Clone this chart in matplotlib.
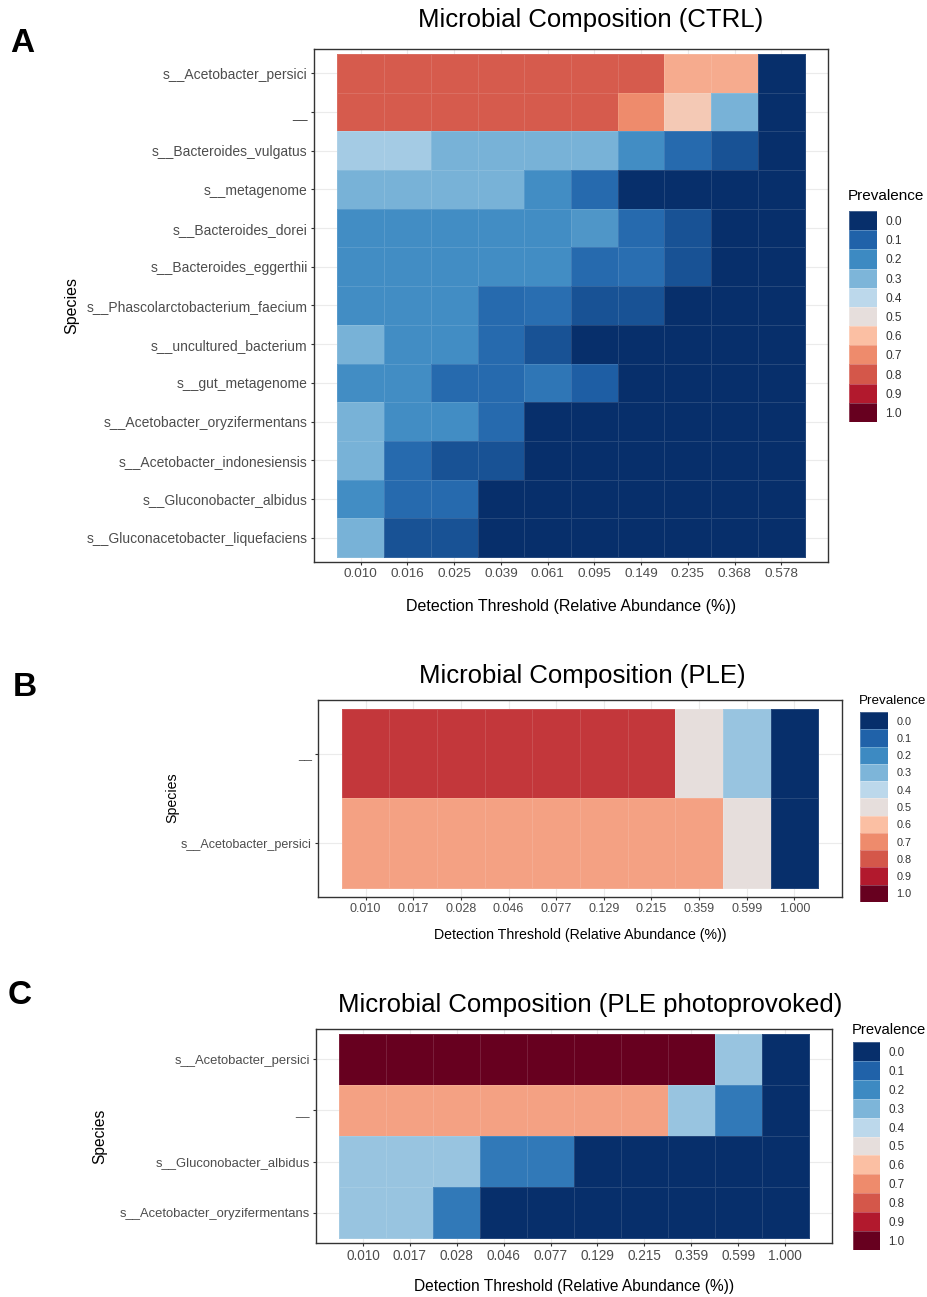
import numpy as np
import matplotlib
matplotlib.use('Agg')
import matplotlib.pyplot as plt
from matplotlib.colors import LinearSegmentedColormap

plt.rcParams['font.family'] = ['Liberation Sans', 'DejaVu Sans']

# ---- data: prevalence of each species at each detection threshold ----
# Panel A (CTRL)
ctrl_species = ['s__Acetobacter_persici', '__', 's__Bacteroides_vulgatus', 's__metagenome',
                's__Bacteroides_dorei', 's__Bacteroides_eggerthii',
                's__Phascolarctobacterium_faecium', 's__uncultured_bacterium',
                's__gut_metagenome', 's__Acetobacter_oryzifermentans',
                's__Acetobacter_indonesiensis', 's__Gluconobacter_albidus',
                's__Gluconacetobacter_liquefaciens']
ctrl_thresholds = ['0.010', '0.016', '0.025', '0.039', '0.061', '0.095', '0.149', '0.235', '0.368', '0.578']
ctrl_prev = [
    [0.79, 0.79, 0.79, 0.79, 0.79, 0.79, 0.79, 0.64, 0.64, 0.0],
    [0.79, 0.79, 0.79, 0.79, 0.79, 0.79, 0.70, 0.57, 0.29, 0.0],
    [0.36, 0.36, 0.29, 0.29, 0.29, 0.29, 0.21, 0.12, 0.07, 0.0],
    [0.29, 0.29, 0.29, 0.29, 0.21, 0.12, 0.0, 0.0, 0.0, 0.0],
    [0.21, 0.21, 0.21, 0.21, 0.21, 0.23, 0.12, 0.07, 0.0, 0.0],
    [0.21, 0.21, 0.21, 0.21, 0.21, 0.12, 0.13, 0.07, 0.0, 0.0],
    [0.21, 0.21, 0.21, 0.12, 0.13, 0.07, 0.07, 0.0, 0.0, 0.0],
    [0.29, 0.21, 0.21, 0.12, 0.07, 0.0, 0.0, 0.0, 0.0, 0.0],
    [0.21, 0.21, 0.12, 0.12, 0.15, 0.09, 0.0, 0.0, 0.0, 0.0],
    [0.29, 0.21, 0.21, 0.12, 0.0, 0.0, 0.0, 0.0, 0.0, 0.0],
    [0.29, 0.12, 0.07, 0.07, 0.0, 0.0, 0.0, 0.0, 0.0, 0.0],
    [0.21, 0.12, 0.12, 0.0, 0.0, 0.0, 0.0, 0.0, 0.0, 0.0],
    [0.29, 0.07, 0.07, 0.0, 0.0, 0.0, 0.0, 0.0, 0.0, 0.0],
]

# Panel B (PLE)
ple_species = ['__', 's__Acetobacter_persici']
ple_thresholds = ['0.010', '0.017', '0.028', '0.046', '0.077', '0.129', '0.215', '0.359', '0.599', '1.000']
ple_prev = [
    [0.85, 0.85, 0.85, 0.85, 0.85, 0.85, 0.85, 0.50, 0.34, 0.0],
    [0.66, 0.66, 0.66, 0.66, 0.66, 0.66, 0.66, 0.66, 0.50, 0.0],
]

# Panel C (PLE photoprovoked)
photo_species = ['s__Acetobacter_persici', '__', 's__Gluconobacter_albidus', 's__Acetobacter_oryzifermentans']
photo_thresholds = ['0.010', '0.017', '0.028', '0.046', '0.077', '0.129', '0.215', '0.359', '0.599', '1.000']
photo_prev = [
    [1.0, 1.0, 1.0, 1.0, 1.0, 1.0, 1.0, 1.0, 0.34, 0.0],
    [0.66, 0.66, 0.66, 0.66, 0.66, 0.66, 0.66, 0.34, 0.16, 0.0],
    [0.34, 0.34, 0.34, 0.16, 0.16, 0.0, 0.0, 0.0, 0.0, 0.0],
    [0.34, 0.34, 0.16, 0.0, 0.0, 0.0, 0.0, 0.0, 0.0, 0.0],
]

legend_levels = [0.0, 0.1, 0.2, 0.3, 0.4, 0.5, 0.6, 0.7, 0.8, 0.9, 1.0]

# RdBu-like palette as rendered in the figure
cmap = LinearSegmentedColormap.from_list('prev', [
    '#072f6b', '#2163aa', '#3d8ac2', '#7eb6d9', '#bcd8eb', '#e6dfdd',
    '#fbbfa3', '#ef8c6d', '#d4574a', '#b3192d', '#67001f'])

W, H = 928, 1297
fig = plt.figure(figsize=(W / 100, H / 100), dpi=100)


def px_axes(x0, y0, x1, y1):
    return fig.add_axes([x0 / W, 1 - y1 / H, (x1 - x0) / W, (y1 - y0) / H])


def panel(box, species, thresholds, prev, ypad, ytick_fs, xtick_fs):
    ax = px_axes(*box)
    vals = np.array(prev)
    ny, nx = vals.shape
    ax.pcolormesh(np.arange(nx + 1) - 0.5, np.arange(ny + 1) - 0.5, vals, cmap=cmap,
                  vmin=0, vmax=1, edgecolors=(1, 1, 1, 0.12), linewidth=0.6, zorder=2)
    ax.set_xlim(-1, nx)
    ax.set_ylim(ny - 0.5 + ypad, -0.5 - ypad)
    ax.set_xticks(range(nx))
    ax.set_xticklabels(thresholds, fontsize=xtick_fs, color='#4d4d4d')
    ax.set_yticks(range(ny))
    ax.set_yticklabels(species, fontsize=ytick_fs, color='#4d4d4d')
    ax.tick_params(length=2.5, width=0.8, color='#333333', pad=2)
    ax.grid(True, color='#ebebeb', lw=0.8, zorder=0)
    ax.set_axisbelow(True)
    for s in ax.spines.values():
        s.set_color('#333333')
        s.set_linewidth(1.0)
    return ax


def legend(box, title_xy, title_fs, label_fs):
    ax = px_axes(*box)
    lv = np.array(legend_levels).reshape(-1, 1)
    ax.pcolormesh([0, 1], np.arange(len(legend_levels) + 1), lv, cmap=cmap, vmin=0, vmax=1,
                  edgecolors=(1, 1, 1, 0.25), linewidth=0.5)
    ax.set_xlim(0, 1)
    ax.set_ylim(len(legend_levels), 0)
    ax.yaxis.tick_right()
    ax.set_yticks(np.arange(len(legend_levels)) + 0.5)
    ax.set_yticklabels(['%.1f' % v for v in legend_levels], fontsize=label_fs, color='#333333')
    ax.tick_params(length=0, pad=6)
    ax.set_xticks([])
    for s in ax.spines.values():
        s.set_visible(False)
    fig.text(title_xy[0] / W, 1 - title_xy[1] / H, 'Prevalence', fontsize=title_fs,
             ha='left', va='center')


# ---- Panel A ----
panel((314, 49, 828, 562), ctrl_species, ctrl_thresholds, ctrl_prev, 0.13, 10, 9.7)
fig.text(591 / W, 1 - 20 / H, 'Microbial Composition (CTRL)', fontsize=18.5, ha='center', va='center')
fig.text(571 / W, 1 - 606 / H, 'Detection Threshold (Relative Abundance (%))', fontsize=11.5,
         ha='center', va='center')
fig.text(72 / W, 1 - 305 / H, 'Species', fontsize=11.5, rotation=90, ha='center', va='center')
legend((849, 211, 877, 422), (848, 196), 11, 8.6)
fig.text(22 / W, 1 - 44 / H, 'A', fontsize=24, fontweight='bold', ha='center', va='center')

# ---- Panel B ----
panel((318, 700, 842, 897), ple_species, ple_thresholds, ple_prev, 0.1, 9, 9)
fig.text(582 / W, 1 - 676 / H, 'Microbial Composition (PLE)', fontsize=18.5, ha='center', va='center')
fig.text(580 / W, 1 - 935 / H, 'Detection Threshold (Relative Abundance (%))', fontsize=10.2,
         ha='center', va='center')
fig.text(172 / W, 1 - 798 / H, 'Species', fontsize=10.2, rotation=90, ha='center', va='center')
legend((860, 712, 888, 902), (859, 701), 9.6, 7.8)
fig.text(25 / W, 1 - 688 / H, 'B', fontsize=24, fontweight='bold', ha='center', va='center')

# ---- Panel C ----
panel((316, 1029, 832, 1243), photo_species, photo_thresholds, photo_prev, 0.09, 9.4, 9.8)
fig.text(590 / W, 1 - 1005 / H, 'Microbial Composition (PLE photoprovoked)', fontsize=18.5,
         ha='center', va='center')
fig.text(574 / W, 1 - 1286 / H, 'Detection Threshold (Relative Abundance (%))', fontsize=11.2,
         ha='center', va='center')
fig.text(100 / W, 1 - 1136 / H, 'Species', fontsize=11.2, rotation=90, ha='center', va='center')
legend((853, 1042, 880, 1250), (852, 1030), 10.6, 8.4)
fig.text(20 / W, 1 - 996 / H, 'C', fontsize=24, fontweight='bold', ha='center', va='center')

fig.savefig('out.png', dpi=100)
